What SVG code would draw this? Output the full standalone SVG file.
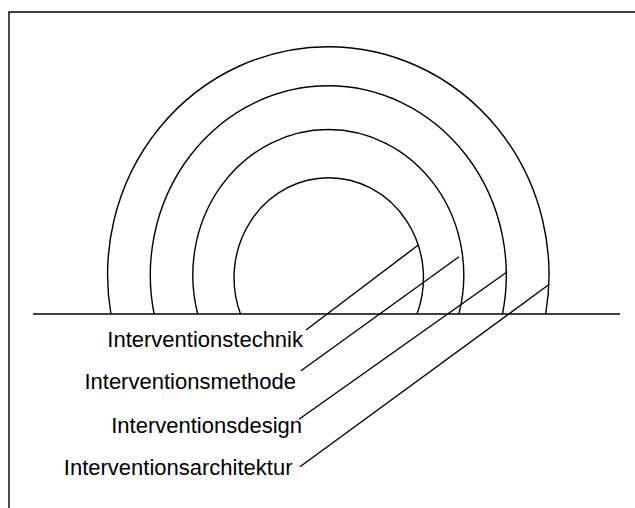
<svg xmlns="http://www.w3.org/2000/svg" width="635" height="508" viewBox="0 0 635 508">
  <style>
    .ln { fill: none; stroke: #000; stroke-width: 1.4; }
    .lbl { font-family: "Liberation Sans", Arial, sans-serif; font-size: 22px; fill: #000; text-anchor: end; }
  </style>
  <rect width="635" height="508" fill="#fff"/>
  <path id="frame" class="ln" d="M9,508 V12 H635" stroke-width="1.6"/>
  <g id="rings">
    <path id="ring-architektur" class="ln" d="M110.9,314 A220.7,228 0 1 1 545.7,314"/>
    <path id="ring-design" class="ln" d="M154.1,314 A178,189.3 0 1 1 502.5,314"/>
    <path id="ring-methode" class="ln" d="M197.7,314 A135.5,145.7 0 1 1 458.9,314"/>
    <path id="ring-technik" class="ln" d="M240.5,314 A94.7,100 0 1 1 417,314"/>
  </g>
  <line id="ground" class="ln" x1="33" y1="314" x2="620" y2="314"/>
  <g id="connectors">
    <line class="ln" x1="418.3" y1="245" x2="306" y2="330"/>
    <line class="ln" x1="459" y1="256.7" x2="301" y2="370.7"/>
    <line class="ln" x1="507.3" y1="271.7" x2="299" y2="419.3"/>
    <line class="ln" x1="549.3" y1="284.3" x2="300" y2="466.7"/>
  </g>
  <g id="label-technik"><text class="lbl" x="303" y="347">Interventionstechnik</text></g>
  <g id="label-methode"><text class="lbl" x="296" y="389">Interventionsmethode</text></g>
  <g id="label-design"><text class="lbl" x="302" y="433">Interventionsdesign</text></g>
  <g id="label-architektur"><text class="lbl" x="292.5" y="475">Interventionsarchitektur</text></g>
</svg>
